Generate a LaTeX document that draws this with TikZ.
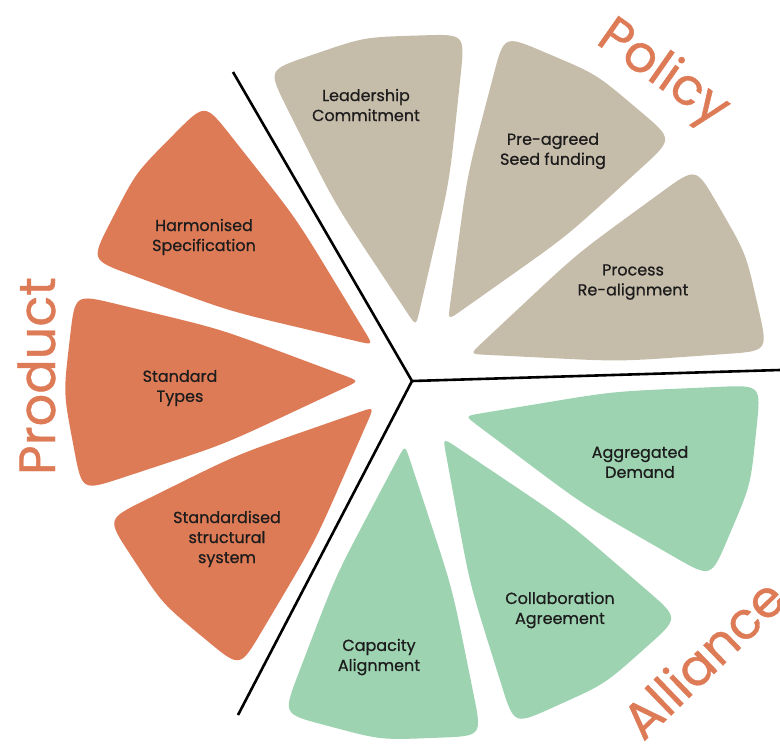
\documentclass[tikz,border=0pt]{standalone}
\usepackage{fontspec}
\setmainfont{Poppins}
\newfontfamily\labelfont{Poppins}[FakeBold=0.7]
\newfontfamily\headfont{Poppins}[FakeBold=0.8]
\usetikzlibrary{calc}

\definecolor{policytan}{HTML}{C6BCAA}
\definecolor{productorange}{HTML}{DE7B57}
\definecolor{alliancegreen}{HTML}{9DD3B1}
\definecolor{labelink}{HTML}{1C1C1C}

% petal: colour, tip, outer corner, outer corner (clockwise)
\newcommand{\petal}[4]{%
  \coordinate (t) at (#2);
  \coordinate (a) at (#3);
  \coordinate (b) at (#4);
  \coordinate (sa) at ($(t)!.5!(a)!4.5pt!90:(a)$);
  \coordinate (ab) at ($(a)!.5!(b)!7.5pt!90:(b)$);
  \coordinate (sb) at ($(b)!.5!(t)!4.5pt!90:(t)$);
  \fill[#1] ($(t)!8pt!(sa)$) -- ($(t)!.5!(sa)$) .. controls (sa) .. ($(sa)!.5!(a)$)
    -- ($(a)!21pt!(sa)$) .. controls (a) .. ($(a)!21pt!(ab)$)
    -- ($(a)!.5!(ab)$) .. controls (ab) .. ($(ab)!.5!(b)$)
    -- ($(b)!21pt!(ab)$) .. controls (b) .. ($(b)!21pt!(sb)$)
    -- ($(b)!.5!(sb)$) .. controls (sb) .. ($(sb)!.5!(t)$)
    -- ($(t)!8pt!(sb)$) .. controls (t) .. ($(t)!8pt!(sa)$) -- cycle;}

\begin{document}
\begin{tikzpicture}[x=0.5pt, y=-0.5pt,
    petaltext/.style={align=center, text=labelink, font=\labelfont\fontsize{8}{10}\selectfont},
    heading/.style={text=productorange, font=\headfont\fontsize{25.5}{26}\selectfont, anchor=base},
    divider/.style={line width=1.3pt}]
  \useasboundingbox (0,0) rectangle (780,745);
  \coordinate (O) at (412,381);

  % policy
  \petal{policytan}{416,326}{268,70}{465,34}
  \petal{policytan}{448,320}{504,35}{673,139}
  \petal{policytan}{470,354}{696,167}{768,351}
  % product
  \petal{productorange}{373,345}{91,260}{205,103}
  \petal{productorange}{359,381}{82,491}{75,294}
  \petal{productorange}{374,407}{240,668}{107,519}
  % alliance
  \petal{alliancegreen}{465,416}{761,385}{711,578}
  \petal{alliancegreen}{443,438}{679,618}{514,725}
  \petal{alliancegreen}{405,445}{482,736}{283,714}

  \coordinate (ul) at (233,72);
  \coordinate (rt) at (780,370);
  \coordinate (dl) at (238,715);
  \draw[divider] (ul) -- (O) -- (rt);
  \draw[divider] (O) -- (dl);

  \node[petaltext] (lead) at (366,105) {Leadership\\Commitment};
  \node[petaltext] (seed) at (553,151) {Pre-agreed\\Seed funding};
  \node[petaltext] (proc) at (633,282) {Process\\Re-alignment};
  \node[petaltext] (harm) at (204,237) {Harmonised\\Specification};
  \node[petaltext] (types) at (180,388) {Standard\\Types};
  \node[petaltext] (struct) at (227,539) {Standardised\\structural\\system};
  \node[petaltext] (demand) at (640,462) {Aggregated\\Demand};
  \node[petaltext] (collab) at (560,610) {Collaboration\\Agreement};
  \node[petaltext] (capac) at (379,657) {Capacity\\Alignment};

  \node[heading, rotate=-35] (policy) at (655,85) {Policy};
  \node[heading, rotate=90] (product) at (55,376) {Product};
  \node[heading, rotate=44] (alliance) at (716,672) {Alliance};
\end{tikzpicture}
\end{document}
